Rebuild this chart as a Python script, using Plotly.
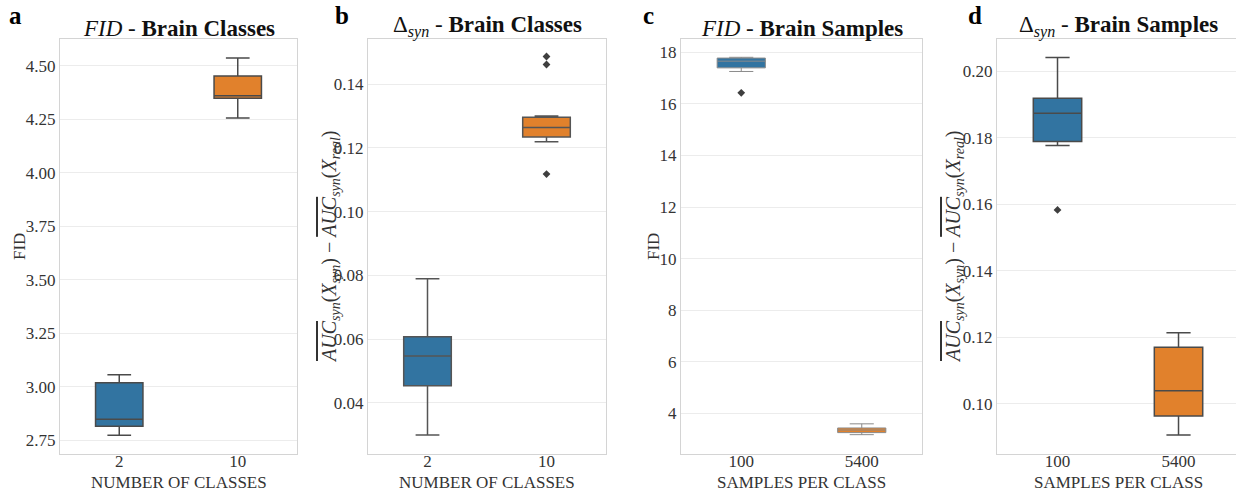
import plotly.graph_objects as go

W, H = 1236, 492
FONT = "Liberation Serif"
BLUE = "#3274A1"
ORANGE = "#E1812C"

# ---- data ----
a_cats = ["2", "10"]
a_q1 = [2.815, 4.348]
a_med = [2.848, 4.360]
a_q3 = [3.018, 4.452]
a_lo = [2.773, 4.256]
a_hi = [3.055, 4.536]

b_cats = ["2", "10"]
b_q1 = [0.0453, 0.1234]
b_med = [0.0547, 0.1264]
b_q3 = [0.0607, 0.1296]
b_lo = [0.0299, 0.1219]
b_hi = [0.0789, 0.1300]
b_out_x = ["10", "10", "10"]
b_out_y = [0.1487, 0.1462, 0.1118]

c_cats = ["100", "5400"]
c_q1 = [17.40, 3.25]
c_med = [17.66, 3.35]
c_q3 = [17.78, 3.43]
c_lo = [17.26, 3.17]
c_hi = [17.81, 3.59]
c_out_x = ["100"]
c_out_y = [16.43]

d_cats = ["100", "5400"]
d_q1 = [0.1789, 0.0963]
d_med = [0.1874, 0.1039]
d_q3 = [0.1919, 0.1170]
d_lo = [0.1777, 0.0906]
d_hi = [0.2041, 0.1214]
d_out_x = ["100"]
d_out_y = [0.1583]

panels = [
    dict(cats=a_cats, q1=a_q1, med=a_med, q3=a_q3, lo=a_lo, hi=a_hi, ox=[], oy=[],
         dom=(60, 297), rng=[2.685, 4.625], ticks=[2.75, 3.0, 3.25, 3.5, 3.75, 4.0, 4.25, 4.5],
         fmt=".2f", line="#4a4a4a", lw=1.5, xr=[-0.5, 1.5]),
    dict(cats=b_cats, q1=b_q1, med=b_med, q3=b_q3, lo=b_lo, hi=b_hi, ox=b_out_x, oy=b_out_y,
         dom=(368, 606), rng=[0.0239, 0.1542], ticks=[0.04, 0.06, 0.08, 0.10, 0.12, 0.14],
         fmt=".2f", line="#555555", lw=1.5, xr=[-0.5, 1.5]),
    dict(cats=c_cats, q1=c_q1, med=c_med, q3=c_q3, lo=c_lo, hi=c_hi, ox=c_out_x, oy=c_out_y,
         dom=(681, 922), rng=[2.42, 18.52], ticks=[4, 6, 8, 10, 12, 14, 16, 18],
         fmt="d", line="#8a8a8a", lw=1, xr=[-0.5, 1.5]),
    dict(cats=d_cats, q1=d_q1, med=d_med, q3=d_q3, lo=d_lo, hi=d_hi, ox=d_out_x, oy=d_out_y,
         dom=(997, 1236), rng=[0.0849, 0.2097], ticks=[0.10, 0.12, 0.14, 0.16, 0.18, 0.20],
         fmt=".2f", line="#4a4a4a", lw=1.5, xr=[-0.5, 1.475]),
]

Y0, Y1 = 39, 454
ydom = [1 - Y1 / H, 1 - Y0 / H]

fig = go.Figure()
layout = dict(
    width=W, height=H,
    margin=dict(l=0, r=0, t=0, b=0),
    paper_bgcolor="white", plot_bgcolor="white",
    showlegend=False, boxmode="overlay",
    font=dict(family=FONT, size=17, color="#333333"),
)

colors = [BLUE, ORANGE]
for i, p in enumerate(panels):
    n = "" if i == 0 else str(i + 1)
    xa, ya = "x" + n, "y" + n
    for j, cat in enumerate(p["cats"]):
        fig.add_trace(go.Box(
            x=[cat], q1=[p["q1"][j]], median=[p["med"][j]], q3=[p["q3"][j]],
            lowerfence=[p["lo"][j]], upperfence=[p["hi"][j]],
            fillcolor=colors[j], line=dict(color=p["line"], width=p["lw"]),
            width=0.4, whiskerwidth=0.5, boxpoints=False,
            xaxis=xa, yaxis=ya, hoverinfo="skip",
        ))
    if p["ox"]:
        fig.add_trace(go.Scatter(
            x=p["ox"], y=p["oy"], mode="markers",
            marker=dict(symbol="diamond", size=6, color="#3f3f3f"),
            xaxis=xa, yaxis=ya, hoverinfo="skip",
        ))
    layout["xaxis" + n] = dict(
        domain=[p["dom"][0] / W, p["dom"][1] / W], anchor=ya,
        type="category", categoryorder="array", categoryarray=p["cats"],
        range=p["xr"], showgrid=False, zeroline=False,
        showline=True, linecolor="#d4d4d4", linewidth=1, mirror=True,
        ticks="", ticklabelstandoff=-8,
        tickfont=dict(family=FONT, size=17, color="#333333"),
    )
    layout["yaxis" + n] = dict(
        domain=ydom, anchor=xa, range=p["rng"],
        tickvals=p["ticks"], tickformat=p["fmt"],
        showgrid=True, gridcolor="#ececec", gridwidth=1, zeroline=False,
        showline=True, linecolor="#d4d4d4", linewidth=1, mirror=True,
        ticks="", tickfont=dict(family=FONT, size=17, color="#333333"),
    )

auc = ('<span style="text-decoration:overline;font-style:italic">AUC</span><sub><i>syn</i></sub>'
       '(<i>X</i><sub><i>syn</i></sub>) − '
       '<span style="text-decoration:overline;font-style:italic">AUC</span><sub><i>syn</i></sub>'
       '(<i>X</i><sub><i>real</i></sub>)')

titles = ["<i>FID</i> - <b>Brain Classes</b>",
          "Δ<sub><i>syn</i></sub> - <b>Brain Classes</b>",
          "<i>FID</i> - <b>Brain Samples</b>",
          "Δ<sub><i>syn</i></sub> - <b>Brain Samples</b>"]
xtitles = ["NUMBER OF CLASSES", "NUMBER OF CLASSES", "SAMPLES PER CLASS", "SAMPLES PER CLASS"]
ytitles = ["FID", auc, "FID", auc]
ytitle_x = [19, 330, 653, 954]
ytitle_size = [17, 20, 17, 20]
letters = ["a", "b", "c", "d"]
letter_x = [7, 333, 641, 966]

ann = []
for i, p in enumerate(panels):
    cx = (p["dom"][0] + p["dom"][1]) / 2
    if i == 3:
        cx = (997 + 1239) / 2
    ann.append(dict(text=titles[i], x=cx / W, y=1 - 43 / H, xref="paper", yref="paper",
                    xanchor="center", yanchor="bottom", showarrow=False,
                    font=dict(family=FONT, size=23, color="#111111")))
    ann.append(dict(text=xtitles[i], x=cx / W, y=1 - 482 / H, xref="paper", yref="paper",
                    xanchor="center", yanchor="middle", showarrow=False,
                    font=dict(family=FONT, size=17, color="#333333")))
    ann.append(dict(text=ytitles[i], x=ytitle_x[i] / W, y=1 - 247 / H, xref="paper", yref="paper",
                    xanchor="center", yanchor="middle", showarrow=False, textangle=-90,
                    font=dict(family=FONT, size=ytitle_size[i], color="#333333")))
    ann.append(dict(text="<b>" + letters[i] + "</b>", x=letter_x[i] / W, y=1 - 0 / H,
                    xref="paper", yref="paper", xanchor="left", yanchor="top", showarrow=False,
                    font=dict(family=FONT, size=25, color="#000000")))
layout["annotations"] = ann

fig.update_layout(**layout)
fig.write_html("out.html", config={"displayModeBar": False},
               post_script="document.body.style.margin='0';document.body.style.padding='0';")
